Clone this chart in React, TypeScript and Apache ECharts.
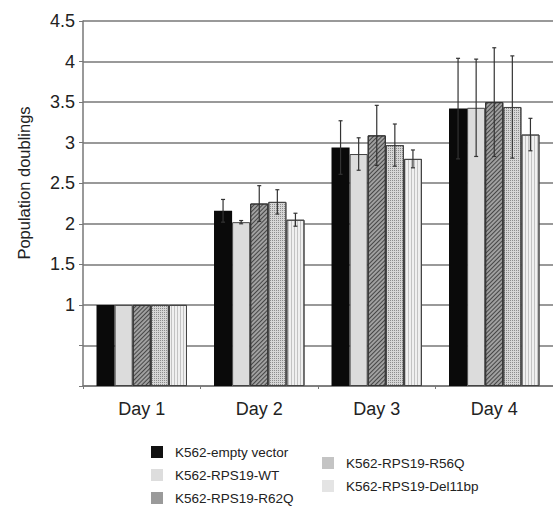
import React, { useEffect, useRef } from "react";
import * as echarts from "echarts";

const categories = ["Day 1", "Day 2", "Day 3", "Day 4"];
const seriesNames = [
  "K562-empty vector",
  "K562-RPS19-WT",
  "K562-RPS19-R62Q",
  "K562-RPS19-R56Q",
  "K562-RPS19-Del11bp",
];
const emptyVector = [1, 2.16, 2.94, 3.42];
const wt = [1, 2.02, 2.86, 3.43];
const r62q = [1, 2.25, 3.09, 3.5];
const r56q = [1, 2.27, 2.97, 3.44];
const del11bp = [1, 2.05, 2.8, 3.1];
const errEmptyVector = [0, 0.14, 0.33, 0.62];
const errWt = [0, 0.02, 0.2, 0.6];
const errR62q = [0, 0.22, 0.37, 0.67];
const errR56q = [0, 0.15, 0.26, 0.63];
const errDel11bp = [0, 0.08, 0.11, 0.2];
const yTicks = [1, 1.5, 2, 2.5, 3, 3.5, 4, 4.5];

const values = [emptyVector, wt, r62q, r56q, del11bp];
const errors = [errEmptyVector, errWt, errR62q, errR56q, errDel11bp];

const FONT = "'Liberation Sans', Arial, Helvetica, sans-serif";

const styles: any[] = [
  { color: "#0a0a0a", borderColor: "#0a0a0a", borderWidth: 0 },
  { color: "#dcdcdc", borderColor: "#444", borderWidth: 1 },
  {
    color: "#a0a0a0",
    borderColor: "#333",
    borderWidth: 1,
    decal: {
      symbol: "rect",
      color: "rgba(40,40,40,0.75)",
      dashArrayX: [1, 0],
      dashArrayY: [1, 2],
      rotation: -Math.PI / 4,
    },
  },
  {
    color: "#d6d6d6",
    borderColor: "#444",
    borderWidth: 1,
    decal: {
      symbol: "rect",
      symbolSize: 1,
      color: "rgba(90,90,90,0.6)",
      dashArrayX: [1, 1],
      dashArrayY: [1, 1],
    },
  },
  {
    color: "#f0f0f0",
    borderColor: "#444",
    borderWidth: 1,
    decal: {
      symbol: "rect",
      color: "rgba(150,150,150,0.5)",
      dashArrayX: [1, 2],
      dashArrayY: [3, 0],
    },
  },
];

const legendColors = ["#111", "#dddddd", "#9a9a9a", "#c4c4c4", "#e4e4e4"];

export default function App() {
  const ref = useRef<HTMLDivElement>(null);
  useEffect(() => {
    if (!ref.current) return;
    const chart = echarts.init(ref.current, null, { renderer: "svg" });
    const barSeries = seriesNames.map((name, i) => ({
      name,
      type: "bar",
      data: values[i],
      barGap: "0%",
      barCategoryGap: "23%",
      itemStyle: { ...styles[i] },
      z: 2,
    }));
    const errSeries = seriesNames.map((name, i) => ({
      name: name + " err",
      type: "custom",
      z: 5,
      data: categories.map((_, d) => [d, values[i][d], errors[i][d]]),
      renderItem: (params: any, api: any) => {
        const x = api.value(0);
        const v = api.value(1);
        const e = api.value(2);
        if (!e) return null;
        const catW = api.size([1, 0])[0];
        const bw = (catW * 0.77) / 5;
        const c = api.coord([x, v]);
        const cx = c[0] + (i - 2) * bw;
        const top = api.coord([x, v + e])[1];
        const bot = api.coord([x, v - e])[1];
        const st = { stroke: "#333", lineWidth: 1.2 };
        return {
          type: "group",
          children: [
            { type: "line", shape: { x1: cx, y1: top, x2: cx, y2: bot }, style: st },
            { type: "line", shape: { x1: cx - 2, y1: top, x2: cx + 2, y2: top }, style: st },
            { type: "line", shape: { x1: cx - 2, y1: bot, x2: cx + 2, y2: bot }, style: st },
          ],
        };
      },
    }));
    const legendBase = {
      orient: "vertical",
      icon: "rect",
      itemWidth: 12,
      itemHeight: 12,
      itemGap: 9,
      padding: 0,
      height: 80,
      selectedMode: false,
      textStyle: { fontFamily: FONT, fontSize: 13.5, color: "#222", padding: [0, 0, 0, 7] },
    };
    chart.setOption({
      animation: false,
      backgroundColor: "#fff",
      grid: { left: 83, top: 21, right: -10, bottom: 121, containLabel: false },
      legend: [
        {
          ...legendBase,
          left: 151,
          top: 445,
          data: seriesNames.slice(0, 3).map((n, k) => ({
            name: n,
            itemStyle: { color: legendColors[k], borderWidth: 0, decal: "none" },
          })),
        },
        {
          ...legendBase,
          left: 322,
          top: 456,
          data: seriesNames.slice(3).map((n, k) => ({
            name: n,
            itemStyle: { color: legendColors[k + 3], borderWidth: 0, decal: "none" },
          })),
        },
      ],
      xAxis: {
        type: "category",
        data: categories,
        axisLine: { lineStyle: { color: "#777", width: 1.5 } },
        axisTick: { show: true, length: 3, lineStyle: { color: "#777" } },
        axisLabel: { fontFamily: FONT, fontSize: 18, color: "#222", margin: 14 },
      },
      yAxis: {
        type: "value",
        min: 0,
        max: 4.5,
        interval: 0.5,
        axisLine: { show: true, lineStyle: { color: "#777", width: 1.5 } },
        axisTick: { show: true, length: 4, lineStyle: { color: "#777" } },
        splitLine: { show: true, lineStyle: { color: "#777", width: 1.5 } },
        axisLabel: {
          fontFamily: FONT,
          fontSize: 18,
          color: "#222",
          margin: 8,
          formatter: (v: number) => (yTicks.includes(v) ? String(v) : ""),
        },
      },
      graphic: [
        {
          type: "text",
          x: 24,
          y: 183,
          rotation: Math.PI / 2,
          style: {
            text: "Population doublings",
            fontFamily: FONT,
            fontSize: 16.5,
            fill: "#222",
            align: "center",
            verticalAlign: "middle",
          },
        },
      ],
      series: [...barSeries, ...errSeries],
    });
    return () => chart.dispose();
  }, []);
  return <div ref={ref} style={{ width: 553, height: 507, position: "absolute", left: 0, top: 0 }} />;
}
